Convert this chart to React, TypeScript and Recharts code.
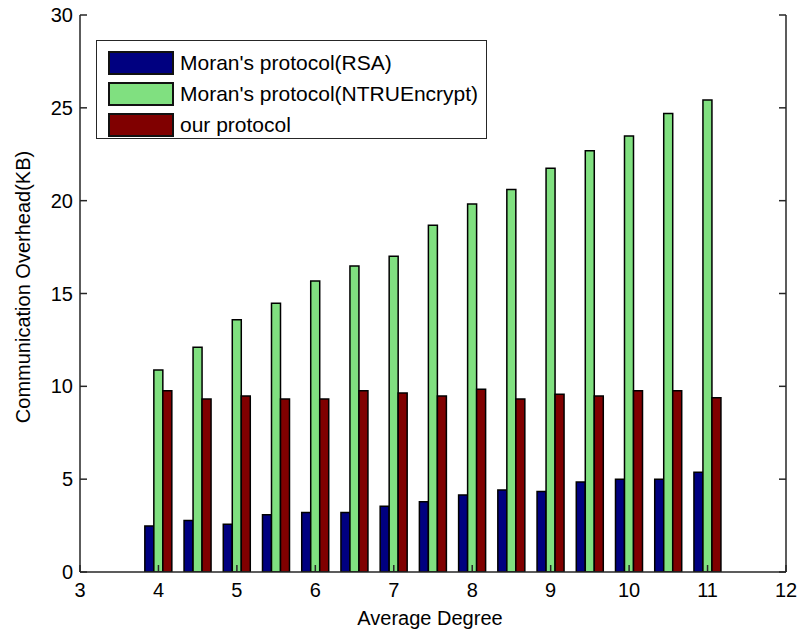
import React from 'react';
import { BarChart, Bar, XAxis, YAxis, Legend } from 'recharts';

const degrees = [4, 4.5, 5, 5.5, 6, 6.5, 7, 7.5, 8, 8.5, 9, 9.5, 10, 10.5, 11];
const rsaValues = [2.48, 2.77, 2.57, 3.09, 3.2, 3.2, 3.54, 3.79, 4.15, 4.42, 4.33, 4.85, 5.0, 5.0, 5.37];
const ntruValues = [10.88, 12.1, 13.59, 14.47, 15.67, 16.48, 17.0, 18.67, 19.82, 20.6, 21.74, 22.69, 23.48, 24.7, 25.42];
const ourValues = [9.76, 9.32, 9.48, 9.32, 9.32, 9.76, 9.64, 9.48, 9.84, 9.32, 9.57, 9.48, 9.76, 9.76, 9.39];

const xTicks = [3, 4, 5, 6, 7, 8, 9, 10, 11, 12];
const yTicks = [0, 5, 10, 15, 20, 25, 30];

const seriesNames = ["Moran's protocol(RSA)", "Moran's protocol(NTRUEncrypt)", 'our protocol'];
const seriesKeys = ['rsa', 'ntru', 'our'];
const seriesColors = ['#000080', '#80E080', '#800000'];

const data = degrees.map((x, i) => ({
  x,
  rsa: rsaValues[i],
  ntru: ntruValues[i],
  our: ourValues[i],
}));

const FONT = 'Liberation Sans, Arial, sans-serif';
const AXIS = '#262626';

const LegendBox = () => (
  <div
    style={{
      width: 391,
      height: 99,
      border: `1.5px solid ${AXIS}`,
      background: '#fff',
      boxSizing: 'border-box',
      paddingTop: 6,
      paddingLeft: 11,
      fontFamily: FONT,
      fontSize: 21,
      color: '#000',
    }}
  >
    {seriesNames.map((name, i) => (
      <div key={name} style={{ display: 'flex', alignItems: 'center', height: 31 }}>
        <div
          style={{
            width: 66,
            height: 24,
            background: seriesColors[i],
            border: '2px solid #111',
            boxSizing: 'border-box',
            marginRight: 6,
          }}
        />
        <span style={{ lineHeight: '24px' }}>{name}</span>
      </div>
    ))}
  </div>
);

const YLabel = () => (
  <text
    transform="translate(23,287) rotate(-90)"
    textAnchor="middle"
    dominantBaseline="central"
    fontSize={20}
    fontFamily={FONT}
    fill="#000"
  >
    Communication Overhead(KB)
  </text>
);

const XLabel = () => (
  <text x={430} y={625} textAnchor="middle" fontSize={20} fontFamily={FONT} fill="#000">
    Average Degree
  </text>
);

const tickStyle = { fontSize: 20, fill: '#000', fontFamily: FONT };

export default function App() {
  return (
    <div style={{ position: 'absolute', left: 0, top: 0, background: '#fff' }}>
      <BarChart
        width={799}
        height={633}
        data={data}
        margin={{ top: 15, right: 0, bottom: 0, left: 0 }}
        barGap={0}
        barSize={9}
      >
        <XAxis
          dataKey="x"
          type="number"
          domain={[3, 12]}
          ticks={xTicks}
          height={61}
          tick={tickStyle}
          tickSize={-7}
          tickMargin={18}
          axisLine={{ stroke: AXIS, strokeWidth: 1.5 }}
          tickLine={{ stroke: AXIS, strokeWidth: 1.5 }}
          allowDataOverflow
          label={<XLabel />}
        />
        <XAxis
          xAxisId="top"
          orientation="top"
          type="number"
          domain={[3, 12]}
          ticks={xTicks}
          height={0}
          tickFormatter={() => ''}
          tickSize={-7}
          axisLine={{ stroke: AXIS, strokeWidth: 1.5 }}
          tickLine={{ stroke: AXIS, strokeWidth: 1.5 }}
          allowDataOverflow
        />
        <YAxis
          type="number"
          domain={[0, 30]}
          ticks={yTicks}
          width={80}
          tick={tickStyle}
          tickSize={-7}
          tickMargin={14}
          axisLine={{ stroke: AXIS, strokeWidth: 1.5 }}
          tickLine={{ stroke: AXIS, strokeWidth: 1.5 }}
          allowDataOverflow
          label={<YLabel />}
        />
        <YAxis
          yAxisId="right"
          orientation="right"
          type="number"
          domain={[0, 30]}
          ticks={yTicks}
          width={13}
          tickFormatter={() => ''}
          tickSize={-7}
          axisLine={{ stroke: AXIS, strokeWidth: 1.5 }}
          tickLine={{ stroke: AXIS, strokeWidth: 1.5 }}
          allowDataOverflow
        />
        <Legend
          layout="vertical"
          align="center"
          verticalAlign="middle"
          content={<LegendBox />}
          wrapperStyle={{ position: 'absolute', left: 96, top: 40, width: 391, height: 99 }}
        />
        {seriesKeys.map((k, i) => (
          <Bar
            key={k}
            dataKey={k}
            name={seriesNames[i]}
            fill={seriesColors[i]}
            stroke="#000"
            strokeWidth={1.5}
            isAnimationActive={false}
          />
        ))}
      </BarChart>
    </div>
  );
}
